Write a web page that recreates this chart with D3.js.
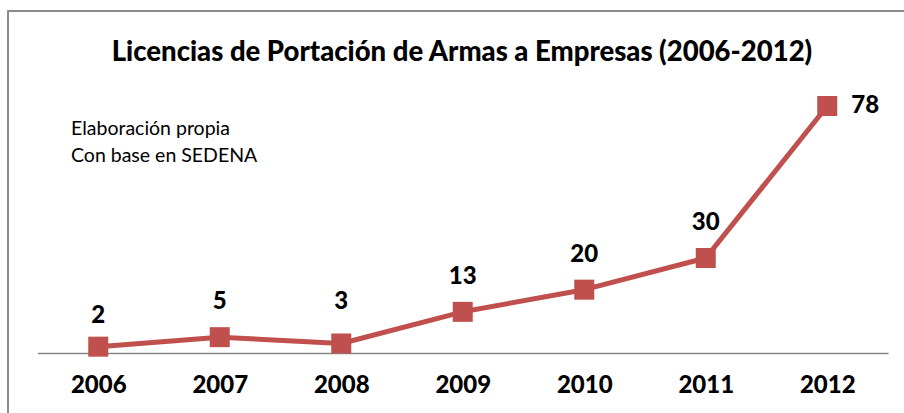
<!DOCTYPE html>
<html lang="es">

<head>
    <meta charset="UTF-8">
    <title>Licencias de Portación de Armas a Empresas</title>
    <script src="https://cdnjs.cloudflare.com/ajax/libs/d3/7.8.5/d3.min.js"></script>
    <style>
        body { margin: 0; background: #fff; }
        text { font-family: Lato, "Open Sans", sans-serif; }
    </style>
</head>

<body>
    <div id="chart"></div>
    <script>
        // datos
        const years = ['2006', '2007', '2008', '2009', '2010', '2011', '2012'];
        const licencias = [2, 5, 3, 13, 20, 30, 78];
        const title = 'Licencias de Portación de Armas a Empresas (2006-2012)';
        const notes = ['Elaboración propia', 'Con base en SEDENA'];

        const W = 904, H = 413;
        const red = '#c0504d';

        const svg = d3.select('#chart')
            .append('svg')
            .attr('width', W)
            .attr('height', H);

        // marco del gráfico
        svg.append('rect')
            .attr('x', 8).attr('y', 11)
            .attr('width', W + 10).attr('height', H + 10)
            .attr('fill', 'none')
            .attr('stroke', '#8c8c8c')
            .attr('stroke-width', 2);

        svg.append('text')
            .attr('x', 462).attr('y', 61)
            .attr('text-anchor', 'middle')
            .attr('font-size', 27.5)
            .attr('font-weight', 900)
            .text(title);

        svg.selectAll('.note')
            .data(notes)
            .enter()
            .append('text')
            .attr('class', 'note')
            .attr('x', 71)
            .attr('y', (d, i) => 135 + i * 27)
            .attr('font-size', 19.5)
            .text(d => d);

        const x = d3.scalePoint()
            .domain(years)
            .range([37.5, 888])
            .padding(0.5);

        const y = d3.scaleLinear()
            .domain([0, 78])
            .range([353, 106]);

        // eje x
        const xAxis = svg.append('g')
            .attr('transform', 'translate(0,353)')
            .call(d3.axisBottom(x).tickSize(0).tickPadding(16));
        xAxis.select('.domain').attr('stroke', '#868686').attr('stroke-width', 1.5);
        xAxis.selectAll('text')
            .attr('font-size', 24)
            .attr('font-weight', 900)
            .attr('fill', '#000')
            .attr('font-family', 'Lato, sans-serif')
            .attr('dy', '1.0em');

        const pts = years.map((d, i) => ({ year: d, v: licencias[i] }));

        const line = d3.line()
            .x(d => x(d.year))
            .y(d => y(d.v));

        svg.append('path')
            .datum(pts)
            .attr('d', line)
            .attr('fill', 'none')
            .attr('stroke', red)
            .attr('stroke-width', 5)
            .attr('stroke-linejoin', 'round');

        const s = 20;
        svg.selectAll('.marker')
            .data(pts)
            .enter()
            .append('rect')
            .attr('class', 'marker')
            .attr('x', d => x(d.year) - s / 2)
            .attr('y', d => y(d.v) - s / 2)
            .attr('width', s)
            .attr('height', s)
            .attr('fill', red);

        // etiquetas de valor (algunas movidas a mano en el original)
        const nudge = { '2006': 4, '2008': -7 };
        svg.selectAll('.lbl')
            .data(pts)
            .enter()
            .append('text')
            .attr('class', 'lbl')
            .attr('x', (d, i) => i === pts.length - 1 ? x(d.year) + 24 : x(d.year))
            .attr('y', (d, i) => i === pts.length - 1 ? y(d.v) + 7 : y(d.v) - 28 + (nudge[d.year] || 0))
            .attr('text-anchor', (d, i) => i === pts.length - 1 ? 'start' : 'middle')
            .attr('font-size', 24)
            .attr('font-weight', 900)
            .text(d => d.v);
    </script>
</body>

</html>
